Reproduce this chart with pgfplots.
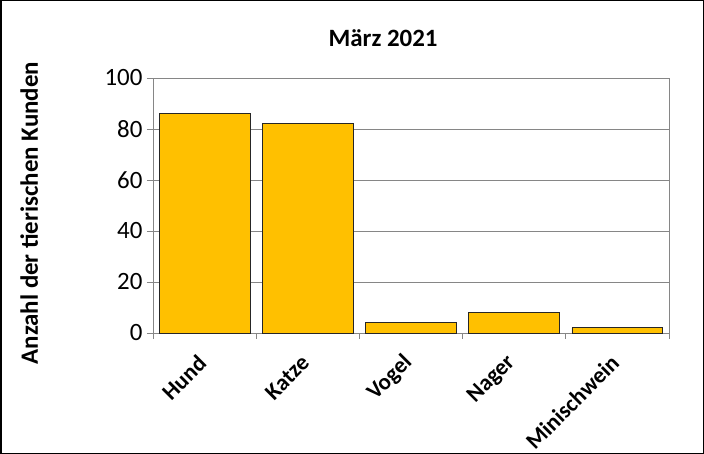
\documentclass[border=0pt]{standalone}
\usepackage{pgfplots}
\pgfplotsset{compat=1.18}
\usepackage{fontspec}
\setmainfont{Carlito}
\definecolor{barfill}{HTML}{FFC000}
\definecolor{gridgray}{HTML}{868686}

\begin{document}
\begin{tikzpicture}
\useasboundingbox (0,0) rectangle (704bp,454bp);
\draw[line width=1.5bp] (0.75bp,0.75bp) rectangle (703.25bp,453.25bp);
\begin{axis}[
    at={(153bp,121bp)}, anchor=south west,
    scale only axis,
    width=516bp, height=255bp,
    xmin=-0.5, xmax=4.5,
    ymin=0, ymax=100,
    ytick={0,20,...,100},
    xtick={0,...,4},
    xticklabels={Hund,Katze,Vogel,Nager,Minischwein},
    minor xtick={-0.5,0.5,...,4.5},
    xtick pos=bottom, ytick pos=left,
    major x tick style={draw=none},
    minor x tick style={draw=gridgray, line width=0.8bp},
    major tick length=6bp, minor tick length=6bp,
    tick align=outside,
    axis line style={draw=gridgray, line width=0.8bp},
    ymajorgrids,
    major grid style={draw=gridgray, line width=0.8bp},
    ytick style={draw=gridgray, line width=0.8bp},
    yticklabel style={font=\fontsize{25}{30}\selectfont, xshift=-1bp},
    /pgf/number format/assume math mode=true,
    xticklabel style={font=\bfseries\fontsize{23}{28}\selectfont, rotate=45, anchor=east},
    xticklabel shift=18bp,
    ybar, bar width=0.88, bar shift=0pt,
    clip=false,
]
\addplot[fill=barfill, draw=black!85, line width=0.8bp] coordinates {
    (0,86) (1,82) (2,4) (3,8) (4,2)
};
\node[font=\bfseries\fontsize{25}{30}\selectfont] at (axis description cs:0.446,1.157) {März 2021};
\node[font=\bfseries\fontsize{25}{30}\selectfont, rotate=90] at (axis description cs:-0.24,0.47) {Anzahl der tierischen Kunden};
\end{axis}
\end{tikzpicture}
\end{document}
